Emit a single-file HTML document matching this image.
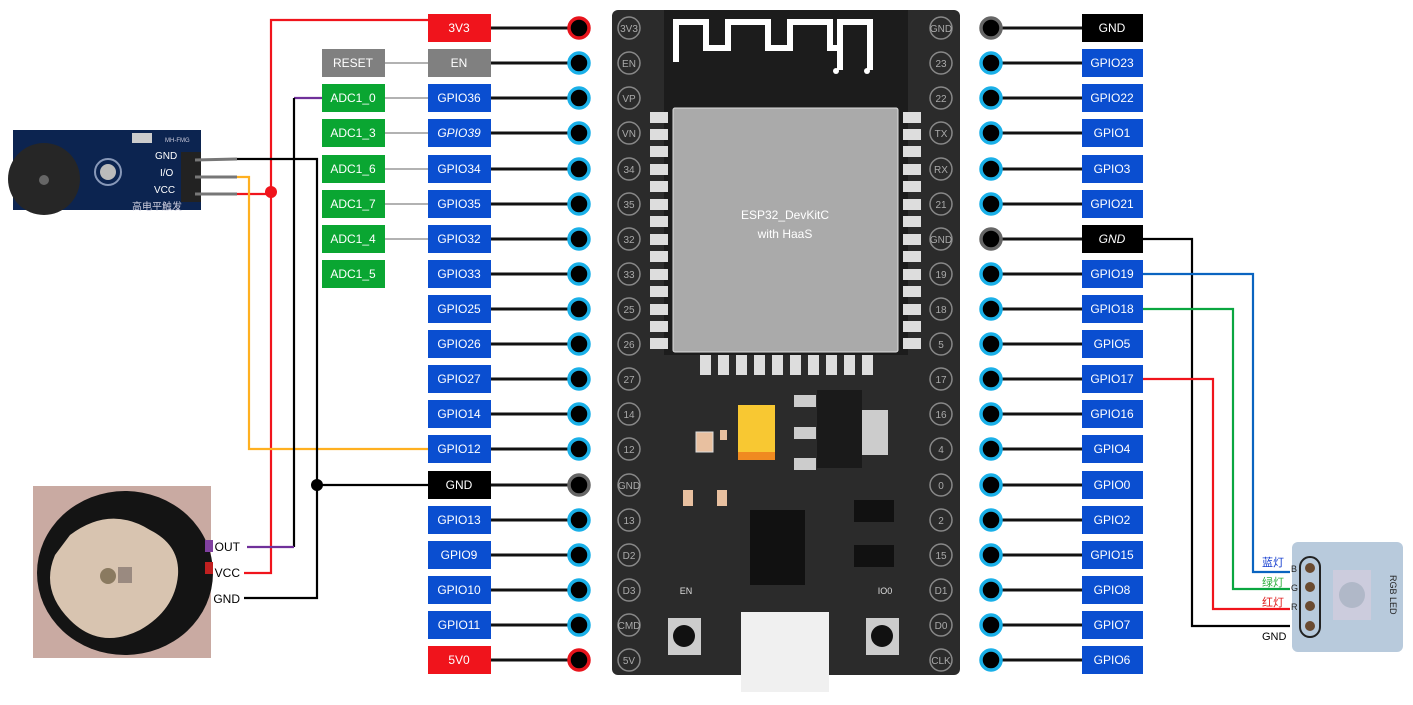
<!DOCTYPE html>
<html><head><meta charset="utf-8"><style>
html,body{margin:0;padding:0;background:#fff;}
svg{display:block;font-family:"Liberation Sans","Noto Sans CJK SC",sans-serif;}
</style></head><body>
<svg width="1413" height="705" viewBox="0 0 1413 705" xmlns="http://www.w3.org/2000/svg">
<!-- board -->
<rect x="612" y="10" width="348" height="665" rx="6" fill="#2b2b2b"/>
<rect x="664" y="10" width="244" height="345" fill="#1c1c1c"/>
<path d="M676 62 V22 H706 V48 H728 V22 H768 V48 H790 V22 H830 V48 H840 V22 H870 V70 M840 48 V70" fill="none" stroke="#fff" stroke-width="6"/>
<circle cx="836" cy="71" r="3" fill="#fff"/><circle cx="867" cy="71" r="3" fill="#fff"/>
<rect x="673" y="108" width="225" height="244" rx="2" fill="#aaa" stroke="#ddd"/>
<text x="785" y="219" fill="#fff" font-size="12" text-anchor="middle">ESP32_DevKitC</text>
<text x="785" y="238" fill="#fff" font-size="12" text-anchor="middle">with HaaS</text>
<g fill="#ddd">
<rect x="650" y="112" width="18" height="11"/><rect x="650" y="129" width="18" height="11"/><rect x="650" y="146" width="18" height="11"/><rect x="650" y="164" width="18" height="11"/><rect x="650" y="181" width="18" height="11"/><rect x="650" y="199" width="18" height="11"/><rect x="650" y="216" width="18" height="11"/><rect x="650" y="234" width="18" height="11"/><rect x="650" y="251" width="18" height="11"/><rect x="650" y="269" width="18" height="11"/><rect x="650" y="286" width="18" height="11"/><rect x="650" y="304" width="18" height="11"/><rect x="650" y="321" width="18" height="11"/><rect x="650" y="338" width="18" height="11"/>
<rect x="903" y="112" width="18" height="11"/><rect x="903" y="129" width="18" height="11"/><rect x="903" y="146" width="18" height="11"/><rect x="903" y="164" width="18" height="11"/><rect x="903" y="181" width="18" height="11"/><rect x="903" y="199" width="18" height="11"/><rect x="903" y="216" width="18" height="11"/><rect x="903" y="234" width="18" height="11"/><rect x="903" y="251" width="18" height="11"/><rect x="903" y="269" width="18" height="11"/><rect x="903" y="286" width="18" height="11"/><rect x="903" y="304" width="18" height="11"/><rect x="903" y="321" width="18" height="11"/><rect x="903" y="338" width="18" height="11"/>
<rect x="700" y="355" width="11" height="20"/><rect x="718" y="355" width="11" height="20"/><rect x="736" y="355" width="11" height="20"/><rect x="754" y="355" width="11" height="20"/><rect x="772" y="355" width="11" height="20"/><rect x="790" y="355" width="11" height="20"/><rect x="808" y="355" width="11" height="20"/><rect x="826" y="355" width="11" height="20"/><rect x="844" y="355" width="11" height="20"/><rect x="862" y="355" width="11" height="20"/>
</g>
<rect x="738" y="405" width="37" height="55" fill="#f8c832"/><rect x="738" y="452" width="37" height="8" fill="#f08a20"/>
<rect x="696" y="432" width="17" height="20" fill="#e8c0a0" stroke="#ddd"/>
<rect x="720" y="430" width="7" height="10" fill="#e8c0a0"/>
<rect x="794" y="395" width="22" height="12" fill="#ccc"/><rect x="794" y="427" width="22" height="12" fill="#ccc"/><rect x="794" y="458" width="22" height="12" fill="#ccc"/>
<rect x="817" y="390" width="45" height="78" fill="#1a1a1a"/>
<rect x="862" y="410" width="26" height="45" fill="#ccc"/>
<rect x="683" y="490" width="10" height="16" fill="#e8c0a0"/><rect x="717" y="490" width="10" height="16" fill="#e8c0a0"/>
<rect x="750" y="510" width="55" height="75" fill="#111"/>
<rect x="854" y="500" width="40" height="22" fill="#111"/><rect x="854" y="545" width="40" height="22" fill="#111"/>
<rect x="741" y="612" width="88" height="80" fill="#f0f0f0"/>
<rect x="668" y="618" width="33" height="37" fill="#ccc"/><circle cx="684" cy="636" r="11" fill="#111"/>
<rect x="866" y="618" width="33" height="37" fill="#ccc"/><circle cx="882" cy="636" r="11" fill="#111"/>
<text x="686" y="594" fill="#ddd" font-size="9" text-anchor="middle">EN</text>
<text x="885" y="594" fill="#ddd" font-size="9" text-anchor="middle">IO0</text>
<g fill="none" stroke="#888" stroke-width="1.5">
<circle cx="629" cy="28" r="11"/><circle cx="629" cy="63" r="11"/><circle cx="629" cy="98" r="11"/><circle cx="629" cy="133" r="11"/><circle cx="629" cy="169" r="11"/><circle cx="629" cy="204" r="11"/><circle cx="629" cy="239" r="11"/><circle cx="629" cy="274" r="11"/><circle cx="629" cy="309" r="11"/><circle cx="629" cy="344" r="11"/><circle cx="629" cy="379" r="11"/><circle cx="629" cy="414" r="11"/><circle cx="629" cy="449" r="11"/><circle cx="629" cy="485" r="11"/><circle cx="629" cy="520" r="11"/><circle cx="629" cy="555" r="11"/><circle cx="629" cy="590" r="11"/><circle cx="629" cy="625" r="11"/><circle cx="629" cy="660" r="11"/>
<circle cx="941" cy="28" r="11"/><circle cx="941" cy="63" r="11"/><circle cx="941" cy="98" r="11"/><circle cx="941" cy="133" r="11"/><circle cx="941" cy="169" r="11"/><circle cx="941" cy="204" r="11"/><circle cx="941" cy="239" r="11"/><circle cx="941" cy="274" r="11"/><circle cx="941" cy="309" r="11"/><circle cx="941" cy="344" r="11"/><circle cx="941" cy="379" r="11"/><circle cx="941" cy="414" r="11"/><circle cx="941" cy="449" r="11"/><circle cx="941" cy="485" r="11"/><circle cx="941" cy="520" r="11"/><circle cx="941" cy="555" r="11"/><circle cx="941" cy="590" r="11"/><circle cx="941" cy="625" r="11"/><circle cx="941" cy="660" r="11"/>
</g>
<g fill="#aaa" font-size="10" text-anchor="middle">
<text x="629" y="32">3V3</text><text x="629" y="67">EN</text><text x="629" y="102">VP</text><text x="629" y="137">VN</text><text x="629" y="173">34</text><text x="629" y="208">35</text><text x="629" y="243">32</text><text x="629" y="278">33</text><text x="629" y="313">25</text><text x="629" y="348">26</text><text x="629" y="383">27</text><text x="629" y="418">14</text><text x="629" y="453">12</text><text x="629" y="489">GND</text><text x="629" y="524">13</text><text x="629" y="559">D2</text><text x="629" y="594">D3</text><text x="629" y="629">CMD</text><text x="629" y="664">5V</text>
<text x="941" y="32">GND</text><text x="941" y="67">23</text><text x="941" y="102">22</text><text x="941" y="137">TX</text><text x="941" y="173">RX</text><text x="941" y="208">21</text><text x="941" y="243">GND</text><text x="941" y="278">19</text><text x="941" y="313">18</text><text x="941" y="348">5</text><text x="941" y="383">17</text><text x="941" y="418">16</text><text x="941" y="453">4</text><text x="941" y="489">0</text><text x="941" y="524">2</text><text x="941" y="559">15</text><text x="941" y="594">D1</text><text x="941" y="629">D0</text><text x="941" y="664">CLK</text>
</g>
<!-- left header lines -->
<g stroke="#111" stroke-width="3">
<line x1="491" y1="28" x2="579" y2="28"/><line x1="491" y1="63" x2="579" y2="63"/><line x1="491" y1="98" x2="579" y2="98"/><line x1="491" y1="133" x2="579" y2="133"/><line x1="491" y1="169" x2="579" y2="169"/><line x1="491" y1="204" x2="579" y2="204"/><line x1="491" y1="239" x2="579" y2="239"/><line x1="491" y1="274" x2="579" y2="274"/><line x1="491" y1="309" x2="579" y2="309"/><line x1="491" y1="344" x2="579" y2="344"/><line x1="491" y1="379" x2="579" y2="379"/><line x1="491" y1="414" x2="579" y2="414"/><line x1="491" y1="449" x2="579" y2="449"/><line x1="491" y1="485" x2="579" y2="485"/><line x1="491" y1="520" x2="579" y2="520"/><line x1="491" y1="555" x2="579" y2="555"/><line x1="491" y1="590" x2="579" y2="590"/><line x1="491" y1="625" x2="579" y2="625"/><line x1="491" y1="660" x2="579" y2="660"/>
<line x1="991" y1="28" x2="1082" y2="28"/><line x1="991" y1="63" x2="1082" y2="63"/><line x1="991" y1="98" x2="1082" y2="98"/><line x1="991" y1="133" x2="1082" y2="133"/><line x1="991" y1="169" x2="1082" y2="169"/><line x1="991" y1="204" x2="1082" y2="204"/><line x1="991" y1="239" x2="1082" y2="239"/><line x1="991" y1="274" x2="1082" y2="274"/><line x1="991" y1="309" x2="1082" y2="309"/><line x1="991" y1="344" x2="1082" y2="344"/><line x1="991" y1="379" x2="1082" y2="379"/><line x1="991" y1="414" x2="1082" y2="414"/><line x1="991" y1="449" x2="1082" y2="449"/><line x1="991" y1="485" x2="1082" y2="485"/><line x1="991" y1="520" x2="1082" y2="520"/><line x1="991" y1="555" x2="1082" y2="555"/><line x1="991" y1="590" x2="1082" y2="590"/><line x1="991" y1="625" x2="1082" y2="625"/><line x1="991" y1="660" x2="1082" y2="660"/>
</g>
<g stroke="#999" stroke-width="1.5">
<line x1="385" y1="63" x2="428" y2="63"/><line x1="385" y1="98" x2="428" y2="98"/><line x1="385" y1="133" x2="428" y2="133"/><line x1="385" y1="169" x2="428" y2="169"/><line x1="385" y1="204" x2="428" y2="204"/><line x1="385" y1="239" x2="428" y2="239"/>
</g>
<!-- header circles -->
<g fill="#000" stroke-width="3.5" stroke="#1ab0e8">
<circle cx="579" cy="28" r="10" stroke="#e8141c"/><circle cx="579" cy="63" r="10"/><circle cx="579" cy="98" r="10"/><circle cx="579" cy="133" r="10"/><circle cx="579" cy="169" r="10"/><circle cx="579" cy="204" r="10"/><circle cx="579" cy="239" r="10"/><circle cx="579" cy="274" r="10"/><circle cx="579" cy="309" r="10"/><circle cx="579" cy="344" r="10"/><circle cx="579" cy="379" r="10"/><circle cx="579" cy="414" r="10"/><circle cx="579" cy="449" r="10"/><circle cx="579" cy="485" r="10" stroke="#666"/><circle cx="579" cy="520" r="10"/><circle cx="579" cy="555" r="10"/><circle cx="579" cy="590" r="10"/><circle cx="579" cy="625" r="10"/><circle cx="579" cy="660" r="10" stroke="#e8141c"/>
<circle cx="991" cy="28" r="10" stroke="#666"/><circle cx="991" cy="63" r="10"/><circle cx="991" cy="98" r="10"/><circle cx="991" cy="133" r="10"/><circle cx="991" cy="169" r="10"/><circle cx="991" cy="204" r="10"/><circle cx="991" cy="239" r="10" stroke="#666"/><circle cx="991" cy="274" r="10"/><circle cx="991" cy="309" r="10"/><circle cx="991" cy="344" r="10"/><circle cx="991" cy="379" r="10"/><circle cx="991" cy="414" r="10"/><circle cx="991" cy="449" r="10"/><circle cx="991" cy="485" r="10"/><circle cx="991" cy="520" r="10"/><circle cx="991" cy="555" r="10"/><circle cx="991" cy="590" r="10"/><circle cx="991" cy="625" r="10"/><circle cx="991" cy="660" r="10"/>
</g>
<!-- labels -->
<g font-size="12" text-anchor="middle" fill="#fff">
<rect x="428" y="14" width="63" height="28" fill="#f0141c"/><text x="459" y="32">3V3</text>
<rect x="428" y="49" width="63" height="28" fill="#808080"/><text x="459" y="67">EN</text>
<rect x="322" y="49" width="63" height="28" fill="#808080"/><text x="353" y="67">RESET</text>
<rect x="322" y="84" width="63" height="28" fill="#0aa632"/><text x="353" y="102">ADC1_0</text>
<rect x="322" y="119" width="63" height="28" fill="#0aa632"/><text x="353" y="137">ADC1_3</text>
<rect x="322" y="155" width="63" height="28" fill="#0aa632"/><text x="353" y="173">ADC1_6</text>
<rect x="322" y="190" width="63" height="28" fill="#0aa632"/><text x="353" y="208">ADC1_7</text>
<rect x="322" y="225" width="63" height="28" fill="#0aa632"/><text x="353" y="243">ADC1_4</text>
<rect x="322" y="260" width="63" height="28" fill="#0aa632"/><text x="353" y="278">ADC1_5</text>
<g fill="#0a4ed0">
<rect x="428" y="84" width="63" height="28"/><rect x="428" y="119" width="63" height="28"/><rect x="428" y="155" width="63" height="28"/><rect x="428" y="190" width="63" height="28"/><rect x="428" y="225" width="63" height="28"/><rect x="428" y="260" width="63" height="28"/><rect x="428" y="295" width="63" height="28"/><rect x="428" y="330" width="63" height="28"/><rect x="428" y="365" width="63" height="28"/><rect x="428" y="400" width="63" height="28"/><rect x="428" y="435" width="63" height="28"/><rect x="428" y="506" width="63" height="28"/><rect x="428" y="541" width="63" height="28"/><rect x="428" y="576" width="63" height="28"/><rect x="428" y="611" width="63" height="28"/>
<rect x="1082" y="49" width="61" height="28"/><rect x="1082" y="84" width="61" height="28"/><rect x="1082" y="119" width="61" height="28"/><rect x="1082" y="155" width="61" height="28"/><rect x="1082" y="190" width="61" height="28"/><rect x="1082" y="260" width="61" height="28"/><rect x="1082" y="295" width="61" height="28"/><rect x="1082" y="330" width="61" height="28"/><rect x="1082" y="365" width="61" height="28"/><rect x="1082" y="400" width="61" height="28"/><rect x="1082" y="435" width="61" height="28"/><rect x="1082" y="471" width="61" height="28"/><rect x="1082" y="506" width="61" height="28"/><rect x="1082" y="541" width="61" height="28"/><rect x="1082" y="576" width="61" height="28"/><rect x="1082" y="611" width="61" height="28"/><rect x="1082" y="646" width="61" height="28"/>
</g>
<rect x="428" y="471" width="63" height="28" fill="#000"/><text x="459" y="489">GND</text>
<rect x="428" y="646" width="63" height="28" fill="#f0141c"/><text x="459" y="664">5V0</text>
<rect x="1082" y="14" width="61" height="28" fill="#000"/><text x="1112" y="32">GND</text>
<rect x="1082" y="225" width="61" height="28" fill="#000"/><text x="1112" y="243" font-style="italic">GND</text>
<text x="459" y="102">GPIO36</text><text x="459" y="137" font-style="italic">GPIO39</text><text x="459" y="173">GPIO34</text><text x="459" y="208">GPIO35</text><text x="459" y="243">GPIO32</text><text x="459" y="278">GPIO33</text><text x="459" y="313">GPIO25</text><text x="459" y="348">GPIO26</text><text x="459" y="383">GPIO27</text><text x="459" y="418">GPIO14</text><text x="459" y="453">GPIO12</text><text x="459" y="524">GPIO13</text><text x="459" y="559">GPIO9</text><text x="459" y="594">GPIO10</text><text x="459" y="629">GPIO11</text>
<text x="1112" y="67">GPIO23</text><text x="1112" y="102">GPIO22</text><text x="1112" y="137">GPIO1</text><text x="1112" y="173">GPIO3</text><text x="1112" y="208">GPIO21</text><text x="1112" y="278">GPIO19</text><text x="1112" y="313">GPIO18</text><text x="1112" y="348">GPIO5</text><text x="1112" y="383">GPIO17</text><text x="1112" y="418">GPIO16</text><text x="1112" y="453">GPIO4</text><text x="1112" y="489">GPIO0</text><text x="1112" y="524">GPIO2</text><text x="1112" y="559">GPIO15</text><text x="1112" y="594">GPIO8</text><text x="1112" y="629">GPIO7</text><text x="1112" y="664">GPIO6</text>
</g>
<!-- buzzer -->
<rect x="13" y="130" width="188" height="80" fill="#0c2450"/>
<circle cx="44" cy="179" r="36" fill="#262626"/><circle cx="44" cy="180" r="5" fill="#666"/>
<circle cx="108" cy="172" r="13" fill="none" stroke="#8898b8" stroke-width="2"/><circle cx="108" cy="172" r="8" fill="#bbb"/>
<rect x="132" y="133" width="20" height="10" fill="#ccc"/>
<text x="165" y="142" fill="#ccd" font-size="6">MH-FMG</text>
<g fill="#fff" font-size="10"><text x="155" y="159">GND</text><text x="160" y="176">I/O</text><text x="154" y="193">VCC</text></g>
<text x="132" y="210" fill="#ccd" font-size="10">高电平触发</text>
<rect x="181" y="152" width="20" height="50" fill="#222"/>
<g stroke="#777" stroke-width="3"><line x1="195" y1="160" x2="237" y2="159"/><line x1="195" y1="177" x2="237" y2="177"/><line x1="195" y1="194" x2="237" y2="194"/></g>
<!-- pulse sensor -->
<rect x="33" y="486" width="178" height="172" fill="#c9aaa2"/>
<ellipse cx="125" cy="573" rx="88" ry="82" fill="#141414"/>
<path d="M70 535 Q110 505 150 530 Q180 545 178 575 Q175 610 140 630 Q100 650 70 620 Q40 590 55 555 Z" fill="#d8c4b0"/>
<circle cx="108" cy="576" r="8" fill="#8a7a60"/><rect x="118" y="567" width="14" height="16" fill="#9a8a80"/>
<rect x="205" y="540" width="8" height="12" fill="#8040a0"/><rect x="205" y="562" width="8" height="12" fill="#c02020"/>
<text x="240" y="551" font-size="12" text-anchor="end" fill="#000">OUT</text>
<text x="240" y="577" font-size="12" text-anchor="end" fill="#000">VCC</text>
<text x="240" y="603" font-size="12" text-anchor="end" fill="#000">GND</text>
<!-- wires left -->
<g fill="none" stroke-width="2.2">
<polyline points="428,20 271,20 271,573 244,573" stroke="#f0141c"/>
<line x1="237" y1="194" x2="271" y2="194" stroke="#f0141c"/>
<polyline points="237,177 249,177 249,449 428,449" stroke="#ffb020"/>
<polyline points="322,98 294,98" stroke="#70309a"/>
<polyline points="294,98 294,547" stroke="#000"/>
<line x1="247" y1="547" x2="294" y2="547" stroke="#70309a"/>
<polyline points="237,159 317,159 317,598 244,598" stroke="#000"/>
<line x1="317" y1="485" x2="428" y2="485" stroke="#000"/>
</g>
<circle cx="271" cy="192" r="6" fill="#f0141c"/><circle cx="317" cy="485" r="6" fill="#000"/>
<!-- wires right -->
<g fill="none" stroke-width="2.2">
<polyline points="1143,239 1192,239 1192,626 1262,626" stroke="#000"/>
<polyline points="1143,274 1253,274 1253,572 1290,572" stroke="#0a64c0"/>
<polyline points="1143,309 1233,309 1233,589 1290,589" stroke="#0aa640"/>
<polyline points="1143,379 1213,379 1213,609 1290,609" stroke="#f0141c"/>
<line x1="1262" y1="626" x2="1290" y2="626" stroke="#000"/>
</g>
<g font-size="11">
<text x="1262" y="566" fill="#1840d0">蓝灯</text><text x="1262" y="586" fill="#30b040">绿灯</text><text x="1262" y="606" fill="#e02020">红灯</text><text x="1262" y="640" fill="#000">GND</text>
</g>
<!-- RGB module -->
<rect x="1292" y="542" width="111" height="110" rx="6" fill="#b8cadc"/>
<rect x="1300" y="557" width="20" height="80" rx="10" fill="none" stroke="#222" stroke-width="2"/>
<g fill="#6a4a30"><circle cx="1310" cy="568" r="5"/><circle cx="1310" cy="587" r="5"/><circle cx="1310" cy="606" r="5"/><circle cx="1310" cy="626" r="5"/></g>
<g font-size="9" fill="#222"><text x="1291" y="572">B</text><text x="1291" y="591">G</text><text x="1291" y="610">R</text></g>
<rect x="1333" y="570" width="38" height="50" fill="#ccd"/><circle cx="1352" cy="595" r="13" fill="#b0b8c8"/>
<text x="1390" y="575" font-size="9" fill="#222" transform="rotate(90 1390 575)">RGB LED</text>
</svg>
</body></html>
